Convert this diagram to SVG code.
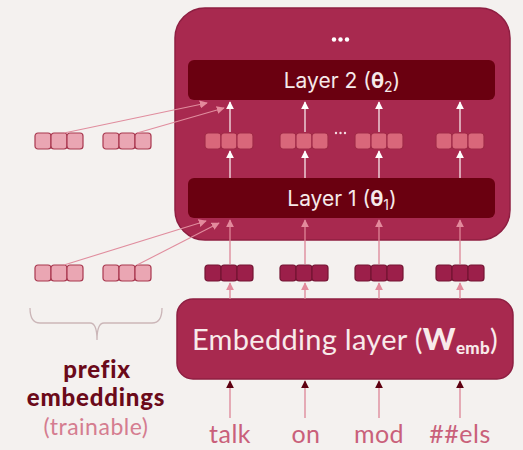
<svg xmlns="http://www.w3.org/2000/svg" width="523" height="450" viewBox="0 0 523 450">
  <style>
    .bg { fill: #f4f1ef; }
    .model { fill: #a8294f; stroke: #8e1f42; stroke-width: 1.5; }
    .layer { fill: #6a0010; }
    .layer-text { font-family: Inter, "Noto Sans", sans-serif; font-size: 21px; fill: #f6e9e9; text-anchor: middle; }
    .emb-text { font-family: Lato, "Noto Sans", sans-serif; font-size: 29px; fill: #f8eaea; text-anchor: middle; letter-spacing: 0.3px; }
    .cell-mid { fill: #d9677a; stroke: #a02a48; stroke-width: 1.2; }
    .cell-emb { fill: #9c1f4a; stroke: #741433; stroke-width: 1.2; }
    .cell-pre { fill: #eaa6b3; stroke: #a8384f; stroke-width: 1.2; }
    .white-line { stroke: #f6e6ea; stroke-width: 1.3; fill: none; }
    .pink-line { stroke: #de8597; stroke-width: 1.3; fill: none; }
    .prefix-line { stroke: #e08d9e; stroke-width: 1.1; fill: none; }
    .word { font-family: Lato, "Noto Sans", sans-serif; font-size: 25px; fill: #c9607a; text-anchor: middle; letter-spacing: 0.5px; }
    .label-bold { font-family: Lato, "Noto Sans", sans-serif; font-weight: 900; font-size: 24px; fill: #6b0a1a; text-anchor: middle; letter-spacing: 0.8px; }
    .label-light { font-family: Lato, "Noto Sans", sans-serif; font-size: 23px; fill: #d57d90; text-anchor: middle; letter-spacing: 0.5px; }
    .brace { stroke: #cbb6b8; stroke-width: 1.3; fill: none; }
  </style>
  <defs>
    <marker id="head-white" viewBox="0 0 10 10" refX="9" refY="5" markerWidth="8" markerHeight="8" orient="auto" markerUnits="userSpaceOnUse">
      <path d="M0,0 L10,5 L0,10 z" fill="#ffffff"/>
    </marker>
    <marker id="head-pink" viewBox="0 0 10 10" refX="9" refY="5" markerWidth="8" markerHeight="8" orient="auto" markerUnits="userSpaceOnUse">
      <path d="M0,0 L10,5 L0,10 z" fill="#e38a9c"/>
    </marker>
    <marker id="head-dark" viewBox="0 0 10 10" refX="9" refY="5" markerWidth="8" markerHeight="8" orient="auto" markerUnits="userSpaceOnUse">
      <path d="M0,0 L10,5 L0,10 z" fill="#5e0010"/>
    </marker>
    <g id="vec-mid">
      <rect x="0" y="0" width="16" height="16" rx="3" class="cell-mid"/>
      <rect x="16" y="0" width="16" height="16" rx="3" class="cell-mid"/>
      <rect x="32" y="0" width="16" height="16" rx="3" class="cell-mid"/>
    </g>
    <g id="vec-emb">
      <rect x="0" y="0" width="16" height="16" rx="3" class="cell-emb"/>
      <rect x="16" y="0" width="16" height="16" rx="3" class="cell-emb"/>
      <rect x="32" y="0" width="16" height="16" rx="3" class="cell-emb"/>
    </g>
    <g id="vec-pre">
      <rect x="0" y="0" width="16" height="16" rx="3" class="cell-pre"/>
      <rect x="16" y="0" width="16" height="16" rx="3" class="cell-pre"/>
      <rect x="32" y="0" width="16" height="16" rx="3" class="cell-pre"/>
    </g>
  </defs>

  <rect class="bg" x="0" y="0" width="523" height="450"/>

  <!-- transformer block -->
  <g id="model">
    <rect class="model" x="175" y="8" width="335" height="232" rx="30"/>
    <g fill="#ffffff">
      <circle cx="334" cy="39.5" r="2.2"/>
      <circle cx="340.5" cy="39.5" r="2.2"/>
      <circle cx="347" cy="39.5" r="2.2"/>
    </g>
  </g>

  <g id="layer2">
    <rect class="layer" x="188" y="60" width="307" height="40" rx="6"/>
    <text class="layer-text" x="342" y="88">Layer 2 (<tspan font-weight="bold">θ</tspan><tspan font-size="14" dy="4">2</tspan><tspan dy="-4">)</tspan></text>
  </g>

  <g id="layer1">
    <rect class="layer" x="188" y="178" width="307" height="40" rx="6"/>
    <text class="layer-text" x="342" y="206">Layer 1 (<tspan font-weight="bold">θ</tspan><tspan font-size="14" dy="4">1</tspan><tspan dy="-4">)</tspan></text>
  </g>

  <g id="embedding-layer">
    <rect class="model" x="177" y="299" width="336" height="80" rx="16"/>
    <text class="emb-text" x="345" y="350">Embedding layer (<tspan font-weight="900" font-size="31">W</tspan><tspan font-weight="900" font-size="17" dy="4">emb</tspan><tspan dy="-4">)</tspan></text>
  </g>

  <!-- hidden states between layers -->
  <g id="hidden-states">
    <use href="#vec-mid" x="205" y="133"/>
    <use href="#vec-mid" x="280" y="133"/>
    <use href="#vec-mid" x="355" y="133"/>
    <use href="#vec-mid" x="436" y="133"/>
    <g fill="#f4dce2">
      <circle cx="336" cy="133" r="1.2"/>
      <circle cx="340.5" cy="133" r="1.2"/>
      <circle cx="345" cy="133" r="1.2"/>
    </g>
  </g>

  <!-- token embeddings -->
  <g id="token-embeddings">
    <use href="#vec-emb" x="205" y="265"/>
    <use href="#vec-emb" x="280" y="265"/>
    <use href="#vec-emb" x="355" y="265"/>
    <use href="#vec-emb" x="436" y="265"/>
  </g>

  <!-- trainable prefix vectors -->
  <g id="prefix-vectors">
    <use href="#vec-pre" x="35" y="133"/>
    <use href="#vec-pre" x="103" y="133"/>
    <use href="#vec-pre" x="35" y="265"/>
    <use href="#vec-pre" x="103" y="265"/>
  </g>

  <g id="connectors">
    <!-- hidden states to layer 2 -->
    <line class="white-line" x1="230" y1="132" x2="230" y2="102" marker-end="url(#head-white)"/>
    <line class="white-line" x1="305" y1="132" x2="305" y2="102" marker-end="url(#head-white)"/>
    <line class="white-line" x1="379" y1="132" x2="379" y2="102" marker-end="url(#head-white)"/>
    <line class="white-line" x1="460" y1="132" x2="460" y2="102" marker-end="url(#head-white)"/>
    <!-- layer 1 to hidden states -->
    <line class="white-line" x1="230" y1="178" x2="230" y2="151" marker-end="url(#head-white)"/>
    <line class="white-line" x1="305" y1="178" x2="305" y2="151" marker-end="url(#head-white)"/>
    <line class="white-line" x1="379" y1="178" x2="379" y2="151" marker-end="url(#head-white)"/>
    <line class="white-line" x1="460" y1="178" x2="460" y2="151" marker-end="url(#head-white)"/>
    <!-- token embeddings to layer 1 -->
    <line class="pink-line" x1="230" y1="264" x2="230" y2="220" marker-end="url(#head-pink)"/>
    <line class="pink-line" x1="305" y1="264" x2="305" y2="220" marker-end="url(#head-pink)"/>
    <line class="pink-line" x1="379" y1="264" x2="379" y2="220" marker-end="url(#head-pink)"/>
    <line class="pink-line" x1="460" y1="264" x2="460" y2="220" marker-end="url(#head-pink)"/>
    <!-- embedding layer to token embeddings -->
    <line class="pink-line" x1="230" y1="299" x2="230" y2="283" marker-end="url(#head-pink)"/>
    <line class="pink-line" x1="305" y1="299" x2="305" y2="283" marker-end="url(#head-pink)"/>
    <line class="pink-line" x1="379" y1="299" x2="379" y2="283" marker-end="url(#head-pink)"/>
    <line class="pink-line" x1="460" y1="299" x2="460" y2="283" marker-end="url(#head-pink)"/>
    <!-- words into embedding layer -->
    <line class="pink-line" x1="230" y1="418" x2="230" y2="381" marker-end="url(#head-dark)"/>
    <line class="pink-line" x1="305" y1="418" x2="305" y2="381" marker-end="url(#head-dark)"/>
    <line class="pink-line" x1="379" y1="418" x2="379" y2="381" marker-end="url(#head-dark)"/>
    <line class="pink-line" x1="460" y1="418" x2="460" y2="381" marker-end="url(#head-dark)"/>
    <!-- prefix vectors into layers -->
    <line class="prefix-line" x1="64" y1="133" x2="207" y2="103" marker-end="url(#head-pink)"/>
    <line class="prefix-line" x1="137" y1="133" x2="224" y2="108" marker-end="url(#head-pink)"/>
    <line class="prefix-line" x1="64" y1="265" x2="206" y2="221" marker-end="url(#head-pink)"/>
    <line class="prefix-line" x1="137" y1="265" x2="219" y2="223" marker-end="url(#head-pink)"/>
  </g>

  <!-- input tokens -->
  <g id="tokens">
    <text class="word" x="230" y="443">talk</text>
    <text class="word" x="306" y="443">on</text>
    <text class="word" x="379" y="443">mod</text>
    <text class="word" x="460" y="443">##els</text>
  </g>

  <!-- prefix label -->
  <g id="prefix-label">
    <path class="brace" d="M30,308 Q30,323 40,323 L90,323 Q97,323 97,340 Q97,323 104,323 L152,323 Q162,323 162,308"/>
    <text class="label-bold" x="97" y="378">prefix</text>
    <text class="label-bold" x="96" y="406">embeddings</text>
    <text class="label-light" x="96" y="435">(trainable)</text>
  </g>
</svg>
